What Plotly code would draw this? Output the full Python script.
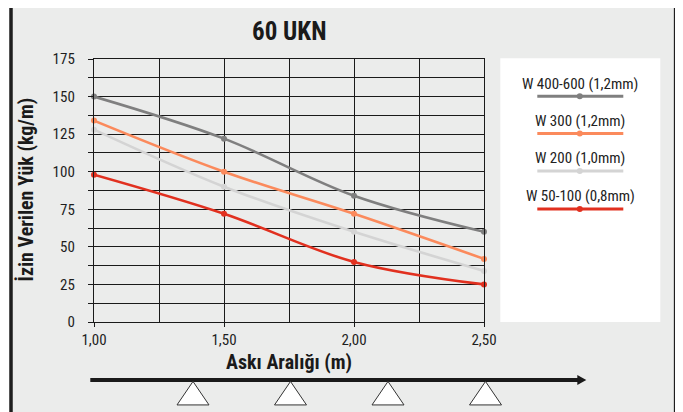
import plotly.graph_objects as go

# ---- data ----
spans = [1.00, 1.50, 2.00, 2.50]
series_names = ["W 400-600 (1,2mm)", "W 300 (1,2mm)", "W 200 (1,0mm)", "W 50-100 (0,8mm)"]
w400_600 = [150, 122, 84, 60]
w300 = [134, 100, 72, 42]
w200 = [128, 90, 60, 34]
w50_100 = [98, 72, 40, 25]
colors = ["#7f7f7f", "#fb8a5c", "#d4d4d4", "#e1301f"]
title_text = "60 UKN"
y_title = "İzin Verilen Yük (kg/m)"
x_title = "Askı Aralığı (m)"
support_marks = [1.375, 1.75, 2.125, 2.5]

# screen is 683x412; the page body adds an 8px margin, so the figure is 8px smaller
SW, SH = 683, 412
OFF = 8
W, H = SW - OFF, SH - OFF
L, R, T, B = 93.7, 483.7, 58.8, 322.0   # plot area in screen pixels

def px(x):
    return (x - L) / (R - L)

def py(y):
    return (B - y) / (B - T)

NARROW = "Roboto Condensed, Liberation Sans Narrow, Arial Narrow, sans-serif"

fig = go.Figure()
for name, vals, c in zip(series_names, [w400_600, w300, w200, w50_100], colors):
    fig.add_trace(go.Scatter(
        x=spans, y=vals, name=name, mode="lines+markers",
        line=dict(color=c, width=2.6, shape="spline", smoothing=1.0),
        marker=dict(color=c, size=6), cliponaxis=False, showlegend=False))

shapes = []
# outer frame
shapes.append(dict(type="rect", xref="paper", yref="paper", layer="below",
                   x0=px(10.7), x1=px(675.3), y0=py(5.3), y1=py(430),
                   fillcolor="#ebeceb", line=dict(color="#1e1e1e", width=3.5)))
# legend box
shapes.append(dict(type="rect", xref="paper", yref="paper", layer="below",
                   x0=px(500), x1=px(660), y0=py(58), y1=py(322),
                   fillcolor="#ffffff", line=dict(width=0)))
annotations = []
leg_text_y = [84.3, 120.7, 158.3, 195.7]
leg_line_y = [96, 133.3, 171, 209]
for name, c, ty, ly in zip(series_names, colors, leg_text_y, leg_line_y):
    shapes.append(dict(type="line", xref="paper", yref="paper",
                       x0=px(537), x1=px(623), y0=py(ly), y1=py(ly),
                       line=dict(color=c, width=3)))
    shapes.append(dict(type="circle", xref="paper", yref="paper",
                       x0=px(576.5), x1=px(582.5), y0=py(ly - 3), y1=py(ly + 3),
                       fillcolor=c, line=dict(width=0)))
    annotations.append(dict(text=name, xref="paper", yref="paper", x=px(580), y=py(ty),
                            xanchor="center", yanchor="middle", showarrow=False,
                            font=dict(family=NARROW, size=15, color="#222222")))
# arrow below axis
shapes.append(dict(type="line", xref="paper", yref="paper",
                   x0=px(90), x1=px(578), y0=py(380), y1=py(380),
                   line=dict(color="#1a1a1a", width=4)))
shapes.append(dict(type="path", xref="paper", yref="paper",
                   path=f"M {px(577)},{py(375)} L {px(586)},{py(380)} L {px(577)},{py(385)} Z",
                   fillcolor="#1a1a1a", line=dict(width=0)))
# support triangles
for s in support_marks:
    cx = L + (s - 1.0) * (R - L) / 1.5 + 1.5
    shapes.append(dict(type="path", xref="paper", yref="paper",
                       path=f"M {px(cx-16)},{py(405)} L {px(cx)},{py(381.5)} L {px(cx+16)},{py(405)} Z",
                       fillcolor="#ffffff", line=dict(color="#333333", width=1)))

annotations.append(dict(text=f"<b>{title_text}</b>", xref="paper", yref="paper", x=px(289), y=py(31),
                        xanchor="center", yanchor="middle", showarrow=False,
                        font=dict(family=NARROW, size=25, color="#1a1a1a")))
annotations.append(dict(text=f"<b>{y_title}</b>", xref="paper", yref="paper", x=px(26), y=py(189),
                        xanchor="center", yanchor="middle", showarrow=False, textangle=-90,
                        font=dict(family=NARROW, size=20, color="#1a1a1a")))
annotations.append(dict(text=f"<b>{x_title}</b>", xref="paper", yref="paper", x=px(289), y=py(362),
                        xanchor="center", yanchor="middle", showarrow=False,
                        font=dict(family=NARROW, size=20, color="#1a1a1a")))

grid = "#1a1a1a"
gw = 1.4
fig.update_layout(
    width=W, height=H,
    margin=dict(l=L - OFF, r=SW - R, t=T - OFF, b=SH - B, pad=0),
    paper_bgcolor="#ffffff", plot_bgcolor="rgba(0,0,0,0)",
    separators=",.",
    shapes=shapes, annotations=annotations,
    font=dict(family=NARROW, size=15, color="#222222"),
    xaxis=dict(range=[1.0, 2.5], tickvals=spans, tickformat=".2f",
               showgrid=True, gridcolor=grid, gridwidth=gw,
               minor=dict(dtick=0.25, tick0=1.0, showgrid=True, gridcolor=grid, gridwidth=gw),
               showline=True, linecolor=grid, linewidth=gw, mirror=True,
               ticks="outside", ticklen=4, tickcolor=grid, zeroline=False,
               tickfont=dict(family=NARROW, size=15, color="#1e1e1e")),
    yaxis=dict(range=[0, 175], dtick=25, tick0=0,
               showgrid=True, gridcolor=grid, gridwidth=gw,
               minor=dict(dtick=12.5, tick0=0, showgrid=True, gridcolor=grid, gridwidth=gw,
                          ticks="outside", ticklen=5, tickcolor=grid),
               showline=True, linecolor=grid, linewidth=gw, mirror=True,
               ticks="outside", ticklen=5, tickcolor=grid, zeroline=False,
               ticklabelstandoff=10,
               tickfont=dict(family=NARROW, size=15, color="#1e1e1e")),
)

fig.write_html("out.html")
